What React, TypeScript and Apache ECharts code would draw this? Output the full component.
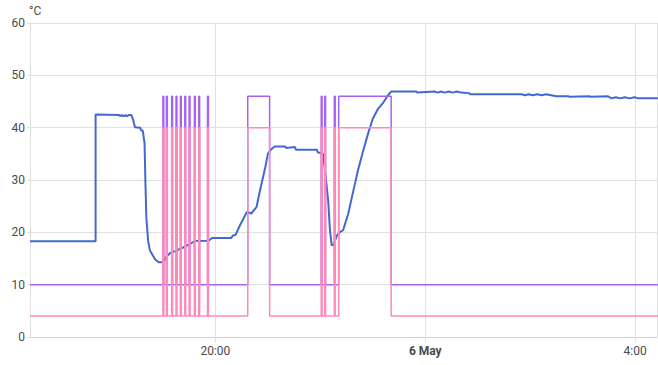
import React, { useEffect, useRef } from "react";
import * as echarts from "echarts";

// Current temperature (blue)
const tempTimes = [
  "16:28", "17:43", "17:43", "18:10", "18:11", "18:13", "18:15", "18:17", "18:19", "18:21",
  "18:24", "18:26", "18:28", "18:34", "18:35", "18:37", "18:39", "18:40", "18:41", "18:43",
  "18:45", "18:48", "18:51", "18:55", "19:00", "19:04", "19:08", "19:14", "19:19", "19:25",
  "19:31", "19:37", "19:52", "19:56", "20:18", "20:20", "20:23", "20:28", "20:32", "20:36",
  "20:41", "20:47", "20:51", "20:57", "21:00", "21:04", "21:08", "21:20", "21:21", "21:31",
  "21:32", "21:56", "21:57", "22:03", "22:05", "22:09", "22:11", "22:13", "22:15", "22:19",
  "22:22", "22:26", "22:32", "22:37", "22:43", "22:49", "22:55", "23:00", "23:06", "23:12",
  "23:17", "23:21", "23:50", "23:51", "00:11", "00:14", "00:18", "00:22", "00:27", "00:31",
  "00:36", "00:41", "00:50", "00:51", "01:50", "01:54", "01:58", "02:03", "02:08", "02:13",
  "02:18", "02:24", "02:30", "02:44", "02:45", "03:08", "03:09", "03:29", "03:33", "03:38",
  "03:43", "03:48", "03:54", "03:59", "04:04", "04:09", "04:26",
];
const tempValues = [
  18.3, 18.3, 42.5, 42.4, 42.2, 42.4, 42.2, 42.4, 42.2, 42.4,
  42.4, 41.5, 40.1, 40.0, 39.5, 39.4, 37.0, 29.4, 23.0, 18.5,
  16.6, 15.7, 14.85, 14.3, 14.3, 15.35, 16.0, 16.4, 16.8, 17.25,
  17.8, 18.35, 18.4, 18.9, 18.9, 19.4, 19.5, 21.3, 22.6, 23.9,
  23.6, 24.8, 28.0, 32.4, 35.0, 35.9, 36.4, 36.4, 36.1, 36.3,
  35.8, 35.8, 35.3, 35.0, 32.4, 26.0, 20.4, 17.5, 17.6, 19.4,
  20.0, 20.4, 23.6, 27.4, 31.8, 35.6, 39.1, 41.7, 43.6, 44.8,
  46.1, 46.9, 46.9, 46.7, 46.9, 46.7, 46.9, 46.7, 46.9, 46.7,
  46.9, 46.7, 46.6, 46.4, 46.4, 46.2, 46.4, 46.2, 46.4, 46.2,
  46.4, 46.2, 46.0, 46.0, 45.9, 46.0, 45.9, 46.0, 45.6, 45.8,
  45.6, 45.8, 45.6, 45.8, 45.6, 45.6, 45.6,
];

// Heating state switch times, target (purple) and heating (pink) levels
const modeTimes = [
  "16:28",
  "19:00", "19:01", "19:04", "19:05", "19:10", "19:11", "19:15", "19:16", "19:20", "19:21",
  "19:25", "19:26", "19:30", "19:31", "19:36", "19:37", "19:41", "19:42", "19:51", "19:52",
  "20:37", "21:02",
  "22:01", "22:02", "22:05", "22:06", "22:16", "22:17",
  "22:21", "23:21",
  "04:26",
];
const purpleValues = [
  10,
  46, 10, 46, 10, 46, 10, 46, 10, 46, 10,
  46, 10, 46, 10, 46, 10, 46, 10, 46, 10,
  46, 10,
  46, 10, 46, 10, 46, 10,
  46, 10,
  10,
];
const pinkValues = [
  4,
  40, 4, 40, 4, 40, 4, 40, 4, 40, 4,
  40, 4, 40, 4, 40, 4, 40, 4, 40, 4,
  40, 4,
  40, 4, 40, 4, 40, 4,
  40, 4,
  4,
];

const yTicks = { min: 0, max: 60, interval: 10 };
const xStart = "16:28";
const xEnd = "04:25";

function parseT(s: string): number {
  const [h, m] = s.split(":").map(Number);
  const day = h < 12 ? 6 : 5;
  return new Date(2024, 4, day, h, m).getTime();
}

const pad = (n: number) => (n < 10 ? "0" + n : "" + n);

export default function App() {
  const ref = useRef<HTMLDivElement>(null);
  useEffect(() => {
    document.body.style.margin = "0";
    if (!ref.current) return;
    const chart = echarts.init(ref.current, null, { renderer: "svg" });
    const gridColor = "#e0e0e0";
    const labelColor = "#4a4a4a";
    const font = "Roboto";
    chart.setOption({
      animation: false,
      textStyle: { fontFamily: font },
      grid: { left: 30, right: 1, top: 23, bottom: 28, containLabel: false },
      xAxis: {
        type: "time",
        min: parseT(xStart),
        max: parseT(xEnd),
        splitNumber: 3,
        minInterval: 4 * 3600 * 1000,
        maxInterval: 4 * 3600 * 1000,
        axisLine: { show: true, lineStyle: { color: "#d0d0d0", width: 1 } },
        axisTick: { show: true, length: 5, lineStyle: { color: gridColor } },
        splitLine: { show: true, lineStyle: { color: gridColor, width: 1 } },
        axisLabel: {
          color: labelColor,
          fontSize: 12,
          fontFamily: font,
          margin: 8,
          showMinLabel: false,
          showMaxLabel: false,
          formatter: (val: number) => {
            const d = new Date(val);
            if (d.getHours() === 0 && d.getMinutes() === 0) {
              return "{b|" + d.getDate() + " May}";
            }
            return d.getHours() + ":" + pad(d.getMinutes());
          },
          rich: {
            b: { fontWeight: "bold", color: labelColor, fontSize: 12, fontFamily: font },
          },
        },
      },
      yAxis: {
        type: "value",
        min: yTicks.min,
        max: yTicks.max,
        interval: yTicks.interval,
        name: "°C",
        nameLocation: "end",
        nameGap: 5,
        nameTextStyle: { color: labelColor, fontSize: 12, fontFamily: font, align: "left", padding: [0, 0, 0, -1] },
        axisLine: { show: true, lineStyle: { color: gridColor } },
        axisTick: { show: true, length: 3, lineStyle: { color: gridColor } },
        splitLine: { show: true, lineStyle: { color: gridColor } },
        axisLabel: { color: labelColor, fontSize: 12, fontFamily: font, margin: 5 },
      },
      series: [
        {
          type: "line",
          name: "Current temperature",
          data: tempTimes.map((t, i) => [parseT(t), tempValues[i]]),
          showSymbol: false,
          symbol: "none",
          lineStyle: { color: "#4269d0", width: 2 },
          itemStyle: { color: "#4269d0" },
          z: 2,
        },
        {
          type: "line",
          name: "Target",
          step: "end",
          data: modeTimes.map((t, i) => [parseT(t), purpleValues[i]]),
          showSymbol: false,
          symbol: "none",
          lineStyle: { color: "#a463f2", width: 1.5 },
          itemStyle: { color: "#a463f2" },
          z: 3,
        },
        {
          type: "line",
          name: "Heating",
          step: "end",
          data: modeTimes.map((t, i) => [parseT(t), pinkValues[i]]),
          showSymbol: false,
          symbol: "none",
          lineStyle: { color: "#ff8ab7", width: 1.5 },
          itemStyle: { color: "#ff8ab7" },
          z: 4,
        },
      ],
    });
    return () => chart.dispose();
  }, []);
  return <div ref={ref} style={{ width: 658, height: 365 }} />;
}
